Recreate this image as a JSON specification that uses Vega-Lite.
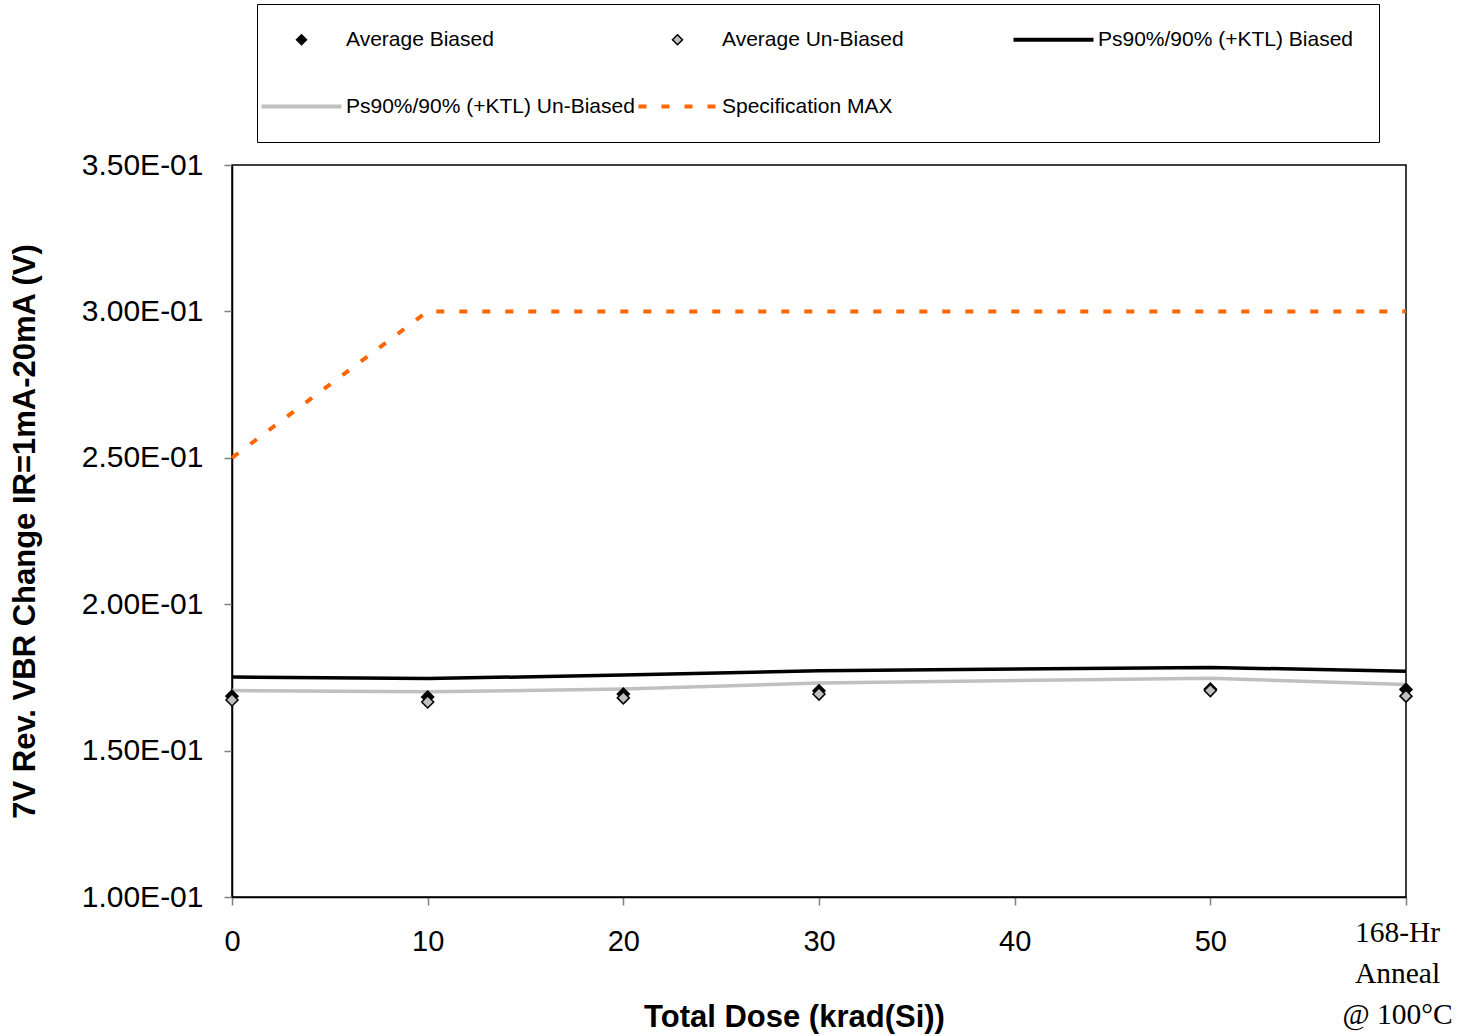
{
  "$schema": "https://vega.github.io/schema/vega-lite/v6.json",
  "width": 1174,
  "height": 732,
  "autosize": {"type": "none"},
  "padding": {"left": 232, "top": 165, "right": 65, "bottom": 139},
  "background": "white",
  "config": {
    "view": {"stroke": "black", "strokeWidth": 1.5},
    "axis": {
      "grid": false,
      "domainColor": "black",
      "domainWidth": 1.5,
      "tickColor": "#808080",
      "tickWidth": 1.5,
      "tickSize": 8,
      "labelFont": "Liberation Sans",
      "labelFontSize": 29,
      "labelColor": "black",
      "titleFont": "Liberation Sans",
      "titleFontSize": 31,
      "titleFontWeight": "bold",
      "titleColor": "black"
    },
    "legend": {
      "title": null,
      "orient": "none",
      "legendX": 25,
      "legendY": -161,
      "direction": "horizontal",
      "columns": 3,
      "gridAlign": "all",
      "columnPadding": -1,
      "rowPadding": 45,
      "padding": 25,
      "strokeColor": "#000000",
      "fillColor": "white",
      "symbolSize": 100,
      "symbolStrokeWidth": 1.5,
      "symbolOpacity": 1,
      "symbolOffset": 9,
      "labelOffset": 34,
      "labelFont": "Liberation Sans",
      "labelFontSize": 21,
      "labelColor": "black",
      "labelLimit": 500
    }
  },
  "data": {
    "values": [
      {"x": 0, "series": "Average Biased", "v": 0.1686},
      {"x": 10, "series": "Average Biased", "v": 0.1683},
      {"x": 20, "series": "Average Biased", "v": 0.1693},
      {"x": 30, "series": "Average Biased", "v": 0.1704},
      {"x": 50, "series": "Average Biased", "v": 0.1710},
      {"x": 60, "series": "Average Biased", "v": 0.1709},
      {"x": 0, "series": "Average Un-Biased", "v": 0.1673},
      {"x": 10, "series": "Average Un-Biased", "v": 0.1666},
      {"x": 20, "series": "Average Un-Biased", "v": 0.1680},
      {"x": 30, "series": "Average Un-Biased", "v": 0.1693},
      {"x": 50, "series": "Average Un-Biased", "v": 0.1705},
      {"x": 60, "series": "Average Un-Biased", "v": 0.1686},
      {"x": 0, "series": "Ps90%/90% (+KTL) Biased", "v": 0.1751},
      {"x": 10, "series": "Ps90%/90% (+KTL) Biased", "v": 0.1746},
      {"x": 20, "series": "Ps90%/90% (+KTL) Biased", "v": 0.1758},
      {"x": 30, "series": "Ps90%/90% (+KTL) Biased", "v": 0.1773},
      {"x": 50, "series": "Ps90%/90% (+KTL) Biased", "v": 0.1784},
      {"x": 60, "series": "Ps90%/90% (+KTL) Biased", "v": 0.1771},
      {"x": 0, "series": "Ps90%/90% (+KTL) Un-Biased", "v": 0.1705},
      {"x": 10, "series": "Ps90%/90% (+KTL) Un-Biased", "v": 0.1701},
      {"x": 20, "series": "Ps90%/90% (+KTL) Un-Biased", "v": 0.1710},
      {"x": 30, "series": "Ps90%/90% (+KTL) Un-Biased", "v": 0.1731},
      {"x": 50, "series": "Ps90%/90% (+KTL) Un-Biased", "v": 0.1747},
      {"x": 60, "series": "Ps90%/90% (+KTL) Un-Biased", "v": 0.1726},
      {"x": 0, "series": "Specification MAX", "v": 0.25},
      {"x": 10, "series": "Specification MAX", "v": 0.30},
      {"x": 20, "series": "Specification MAX", "v": 0.30},
      {"x": 30, "series": "Specification MAX", "v": 0.30},
      {"x": 50, "series": "Specification MAX", "v": 0.30},
      {"x": 60, "series": "Specification MAX", "v": 0.30}
    ]
  },
  "encoding": {
    "x": {
      "field": "x",
      "type": "quantitative",
      "scale": {"domain": [0, 60], "nice": false, "zero": false},
      "axis": {
        "values": [0, 10, 20, 30, 40, 50, 60],
        "title": "Total Dose (krad(Si))",
        "titleX": 562,
        "titleY": 120,
        "titleBaseline": "middle",
        "labelExpr": "datum.value == 60 ? ['168-Hr', 'Anneal', '@ 100°C'] : datum.label",
        "labelFont": {"condition": {"test": "datum.value == 60", "value": "Liberation Serif"}, "value": "Liberation Sans"},
        "labelFontSize": {"condition": {"test": "datum.value == 60", "value": 29.5}, "value": 29},
        "labelPadding": {"condition": {"test": "datum.value == 60", "value": 13}, "value": 22},
        "labelOffset": {"condition": {"test": "datum.value == 60", "value": -9}, "value": 0},
        "labelLineHeight": 41,
        "labelBaseline": "top",
        "labelOverlap": false,
        "labelFlush": false
      }
    },
    "y": {
      "field": "v",
      "type": "quantitative",
      "scale": {"domain": [0.1, 0.35], "nice": false, "zero": false},
      "axis": {
        "values": [0.1, 0.15, 0.2, 0.25, 0.3, 0.35],
        "title": "7V Rev. VBR Change IR=1mA-20mA (V)",
        "titleX": -207,
        "titleY": 366,
        "titleAngle": -90,
        "titleBaseline": "middle",
        "titleAlign": "center",
        "labelFontSize": 30,
        "labelExpr": "replace(upper(format(datum.value, '.2e')), 'E-1', 'E-01')",
        "labelPadding": 21,
        "labelFlush": false,
        "labelOverlap": false
      }
    }
  },
  "layer": [
    {
      "transform": [{"filter": "datum.series == 'Specification MAX'"}],
      "mark": {"type": "line", "stroke": "#FF6600", "strokeWidth": 4, "strokeDash": [8, 15]}
    },
    {
      "transform": [{"filter": "datum.series == 'Ps90%/90% (+KTL) Un-Biased'"}],
      "mark": {"type": "line", "stroke": "#C0C0C0", "strokeWidth": 3.5}
    },
    {
      "transform": [{"filter": "datum.series == 'Ps90%/90% (+KTL) Biased'"}],
      "mark": {"type": "line", "stroke": "#000000", "strokeWidth": 3.5}
    },
    {
      "transform": [{"filter": "indexof(datum.series, 'Average') == 0"}],
      "mark": {"type": "point", "filled": true, "size": 144, "strokeWidth": 1.5, "opacity": 1},
      "encoding": {
        "fill": {
          "field": "series",
          "type": "nominal",
          "scale": {
            "domain": ["Average Biased", "Average Un-Biased", "Ps90%/90% (+KTL) Biased", "Ps90%/90% (+KTL) Un-Biased", "Specification MAX"],
            "range": ["#000000", "#C0C0C0", "#000000", "#C0C0C0", "#FF6600"]
          }
        },
        "stroke": {
          "field": "series",
          "type": "nominal",
          "scale": {
            "domain": ["Average Biased", "Average Un-Biased", "Ps90%/90% (+KTL) Biased", "Ps90%/90% (+KTL) Un-Biased", "Specification MAX"],
            "range": ["#000000", "#000000", "transparent", "transparent", "transparent"]
          }
        },
        "shape": {
          "field": "series",
          "type": "nominal",
          "scale": {
            "domain": ["Average Biased", "Average Un-Biased", "Ps90%/90% (+KTL) Biased", "Ps90%/90% (+KTL) Un-Biased", "Specification MAX"],
            "range": [
              "diamond",
              "diamond",
              "M-8,-0.4H8V0.4H-8Z",
              "M-8,-0.4H8V0.4H-8Z",
              "M-7.8,-0.4H-6.2V0.4H-7.8Z M-3.2,-0.4H-1.6V0.4H-3.2Z M1.4,-0.4H3V0.4H1.4Z M6,-0.4H7.6V0.4H6Z"
            ]
          }
        }
      }
    }
  ]
}
